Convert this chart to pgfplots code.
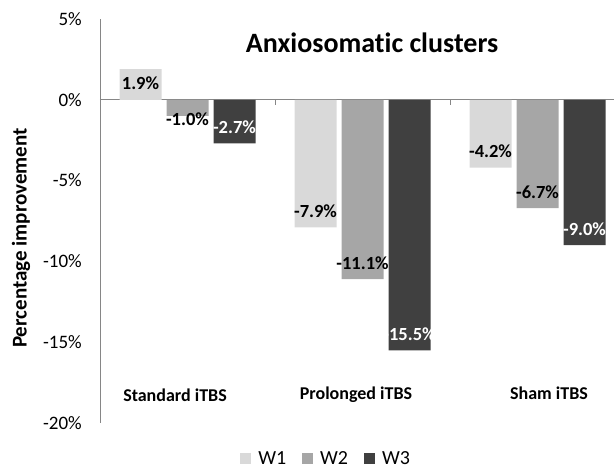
\documentclass[border=0pt]{standalone}
\usepackage{pgfplots}
\pgfplotsset{compat=1.18}
\usepackage{pgfplotstable}
\usepackage{fontspec}
\setmainfont{Carlito}[Ligatures=NoCommon]
\definecolor{w1}{HTML}{D9D9D9}
\definecolor{w2}{HTML}{A6A6A6}
\definecolor{w3}{HTML}{404040}
\definecolor{axgray}{HTML}{868686}

\pgfplotstableread{
x y s
0 1.9 -14
1 -7.9 16
2 -4.2 16
}\wone
\pgfplotstableread{
x y s
0 -1.0 -3
1 -11.1 16
2 -6.7 16
}\wtwo
\pgfplotstableread{
x y s
0 -2.7 16
1 -15.5 16
2 -9.0 16
}\wthree

\begin{document}
\begin{tikzpicture}
\useasboundingbox (0,0) rectangle (614pt,470pt);
\begin{axis}[
  at={(100pt,47pt)}, anchor=south west,
  scale only axis, width=514pt, height=404pt,
  xmin=-0.5, xmax=2.437, ymin=-20, ymax=5,
  axis y line*=left, axis x line=none,
  y axis line style={draw=axgray, line width=0.8pt, -},
  xtick=\empty,
  ytick={-20,-15,-10,-5,0,5},
  yticklabel={\pgfmathprintnumber[assume math mode=true]{\tick}\%},
  ytick style={draw=none},
  yticklabel style={font=\fontsize{19}{21}\selectfont, inner sep=0pt, anchor=east, xshift=-18pt, text=black},
  clip=false,
  ybar, bar width=42pt,
  nodes near coords={\pgfmathprintnumber[fixed, fixed zerofill, precision=1, assume math mode=true]{\pgfplotspointmeta}\%},
  nodes near coords align=center,
  visualization depends on={\thisrow{s} \as \myshift},
  every node near coord/.append style={anchor=center, yshift=\myshift pt, font=\bfseries\fontsize{18.5}{20}\selectfont, inner sep=0pt},
  legend columns=3,
  legend style={draw=none, fill=none, at={(0.440,-0.0891)}, anchor=center,
    font=\fontsize{20}{22}\selectfont,
    /tikz/every odd column/.append style={column sep=5pt},
    /tikz/every even column/.append style={column sep=14pt}},
  legend image code/.code={\path[fill,draw=none,#1] (0pt,-5.5pt) rectangle (11pt,5.5pt);},
]
\draw[axgray, line width=0.8pt] (axis cs:-0.5,0) -- (axis cs:2.437,0);
\draw[axgray, line width=0.8pt] (axis cs:0.5,0) -- ([yshift=-5pt]axis cs:0.5,0);
\draw[axgray, line width=0.8pt] (axis cs:1.5,0) -- ([yshift=-5pt]axis cs:1.5,0);
\addplot[fill=w1, draw=none, bar shift=-47pt, text=black] table[x=x, y=y, meta=y] {\wone};
\addlegendentry{W1}
\addplot[fill=w2, draw=none, bar shift=0pt, text=black] table[x=x, y=y, meta=y] {\wtwo};
\addlegendentry{W2}
\addplot[fill=w3, draw=none, bar shift=47pt, text=white] table[x=x, y=y, meta=y] {\wthree};
\addlegendentry{W3}
\end{axis}
\node[font=\bfseries\fontsize{28}{32}\selectfont] at (372pt,427pt) {Anxiosomatic clusters};
\node[rotate=90, font=\bfseries\fontsize{21}{24}\selectfont] at (21pt,232pt) {Percentage improvement};
\node[font=\bfseries\fontsize{18}{20}\selectfont] at (175pt,75pt) {Standard iTBS};
\node[font=\bfseries\fontsize{18}{20}\selectfont] at (356pt,75pt) {Prolonged iTBS};
\node[font=\bfseries\fontsize{18}{20}\selectfont] at (549pt,77pt) {Sham iTBS};
\end{tikzpicture}
\end{document}
